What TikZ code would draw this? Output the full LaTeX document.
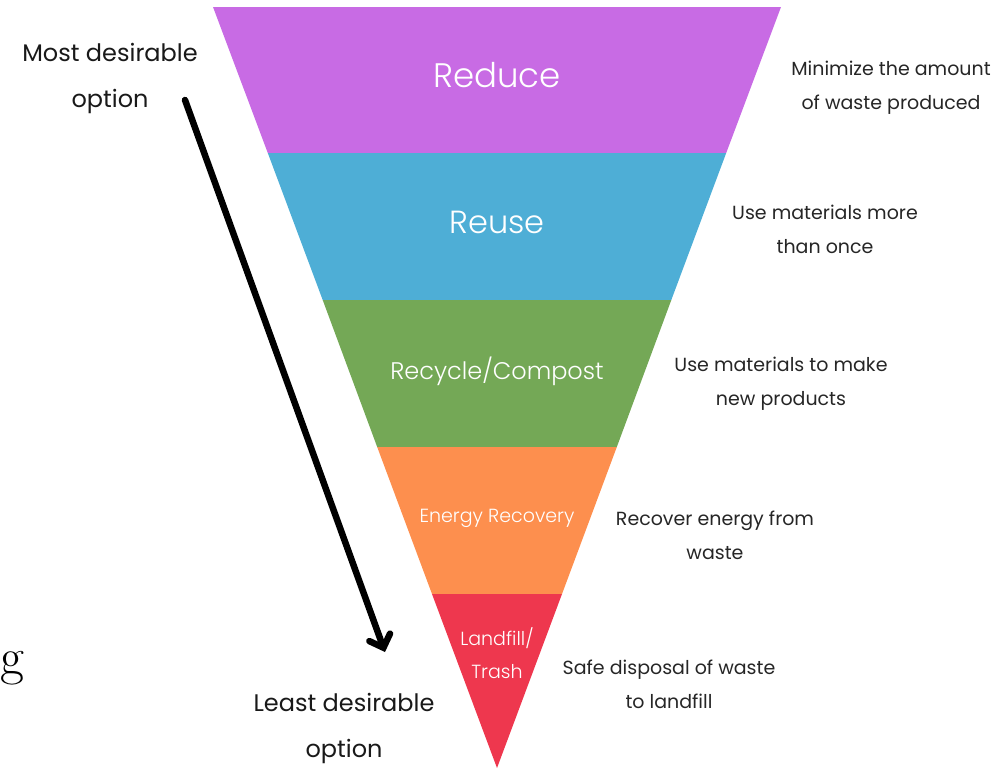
\documentclass[tikz,border=0pt]{standalone}
\usepackage{fontspec}
\setmainfont{Poppins}
\newfontfamily\lightfont{Poppins}[UprightFont=* Light]
\usetikzlibrary{arrows.meta}
\definecolor{cReduce}{HTML}{C86BE4}
\definecolor{cReuse}{HTML}{4EAED6}
\definecolor{cRecycle}{HTML}{74A856}
\definecolor{cEnergy}{HTML}{FD8F4E}
\definecolor{cLandfill}{HTML}{EE374E}
\tikzset{
  band/.style={draw=none},
  bandlabel/.style={text=white, align=center, font=\lightfont\fontsize{#1}{#1}\selectfont},
  desc/.style={text=black!85, align=center, font=\fontsize{19}{34}\selectfont},
  side/.style={text=black!90, align=center, font=\fontsize{24}{46}\selectfont},
}
\begin{document}
\begin{tikzpicture}[x=1pt,y=-1pt]
\useasboundingbox (0,0) rectangle (1000,769);
% funnel corners
\coordinate (TL) at (213,7);
\coordinate (TR) at (781,7);
\coordinate (A) at (497,768);
\coordinate (L1) at (267.8,153);
\coordinate (R1) at (726.2,153);
\coordinate (L2) at (322.7,300);
\coordinate (R2) at (671.3,300);
\coordinate (L3) at (377.2,447);
\coordinate (R3) at (616.8,447);
\coordinate (L4) at (432.0,594);
\coordinate (R4) at (562.0,594);
\fill[band, cReduce] (TL) -- (TR) -- (R1) -- (L1) -- cycle;
\fill[band, cReuse] (L1) -- (R1) -- (R2) -- (L2) -- cycle;
\fill[band, cRecycle] (L2) -- (R2) -- (R3) -- (L3) -- cycle;
\fill[band, cEnergy] (L3) -- (R3) -- (R4) -- (L4) -- cycle;
\fill[band, cLandfill] (L4) -- (R4) -- (A) -- cycle;
% band labels
\node[bandlabel=34] (reduce) at (497,75) {Reduce};
\node[bandlabel=32] (reuse) at (497,222) {Reuse};
\node[bandlabel=24] (recycle) at (497,371) {Recycle/Compost};
\node[bandlabel=19] (energy) at (497,518) {Energy Recovery};
\node[bandlabel=19, font=\lightfont\fontsize{19}{33}\selectfont] (landfill) at (497,653) {Landfill/\\Trash};
% descriptions
\node[desc] (d1) at (891,88) {Minimize the amount\\of waste produced};
\node[desc] (d2) at (825,229) {Use materials more\\than once};
\node[desc] (d3) at (781,384) {Use materials to make\\new products};
\node[desc] (d4) at (715,535) {Recover energy from\\waste};
\node[desc] (d5) at (669,684) {Safe disposal of waste\\to landfill};
% side labels
\node[side] (most) at (110,78) {Most desirable\\option};
\node[side] (least) at (344,728) {Least desirable\\option};
\node[font=\fontspec{Latin Modern Roman}\fontsize{52}{52}\selectfont, anchor=base west, inner sep=0pt] (g) at (0.5,674) {g};
% arrow
\coordinate (as) at (185,100);
\coordinate (ae) at (385,652);
\draw[line width=6.5pt, line cap=round, -{Straight Barb[length=11pt,width=22pt,line cap=round]}] (as) -- (ae);
\end{tikzpicture}
\end{document}
